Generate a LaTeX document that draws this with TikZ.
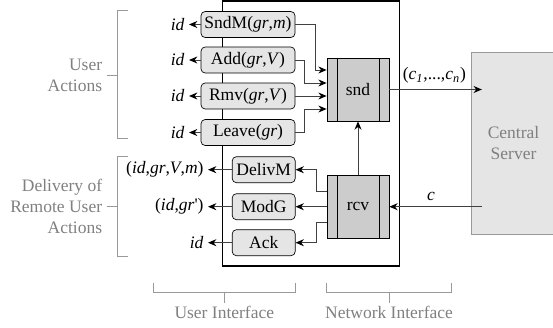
\documentclass[tikz,border=0pt]{standalone}
\usepackage{fontspec}
\setmainfont{Liberation Serif}
\usepackage{xcolor}
\usepackage{tikz}
\usetikzlibrary{arrows.meta}

\definecolor{boxgray}{gray}{0.9}
\definecolor{procgray}{gray}{0.8}
\definecolor{labgray}{gray}{0.5}
\definecolor{brkgray}{gray}{0.6}

\tikzset{
    actbox/.style={draw, fill=boxgray, rounded corners=2.5pt, minimum width=56.4pt, minimum height=15.6pt, inner sep=0.5pt},
    delbox/.style={actbox, minimum width=37.8pt},
    procbox/.style={draw, fill=procgray, minimum width=37.2pt, minimum height=37.8pt,
        path picture={
            \draw ([xshift=6pt]path picture bounding box.north west) -- ([xshift=6pt]path picture bounding box.south west);
            \draw ([xshift=-6pt]path picture bounding box.north east) -- ([xshift=-6pt]path picture bounding box.south east);}},
    srvbox/.style={draw=brkgray, fill=boxgray, text=labgray, align=center, minimum width=50.4pt, minimum height=109.2pt},
    cn/.style={draw=black!75, line width=0.6pt, -{Stealth[length=5pt,width=4.2pt,color=black]}},
    brk/.style={draw=brkgray, line width=0.6pt},
    lab/.style={text=labgray, align=right, inner sep=0pt},
    outlab/.style={anchor=east, inner sep=2.5pt},
}

\begin{document}
\begin{tikzpicture}[x=0.6pt, y=-0.6pt, font=\fontsize{10.5}{12.6}\selectfont]
    \useasboundingbox (0,0) rectangle (553,327);
    \clip (0,0) rectangle (553,327);

    \draw[line width=0.7pt] (222.3,1) rectangle (399.3,266);

    \node[actbox] (sndm) at (248,24.5) {SndM(\textit{gr},\textit{m})};
    \node[actbox] (add) at (248,60) {Add(\textit{gr},\textit{V})};
    \node[actbox] (rmv) at (248,96) {Rmv(\textit{gr},\textit{V})};
    \node[actbox] (leave) at (248,132.5) {Leave(\textit{gr})};
    \node[delbox] (delivm) at (263.7,169.7) {DelivM};
    \node[delbox] (modg) at (263.7,206.7) {ModG};
    \node[delbox] (ack) at (263.7,242.7) {Ack};
    \node[procbox] (snd) at (358,89.5) {snd};
    \node[procbox] (rcv) at (358,206.7) {rcv};
    \node[srvbox] (srv) at (513.5,143.3) {Central\\Server};

    \node[outlab] (idsndm) at (189,24.5) {\textit{id}};
    \node[outlab] (idadd) at (189,60) {\textit{id}};
    \node[outlab] (idrmv) at (189,96) {\textit{id}};
    \node[outlab] (idleave) at (189,132.5) {\textit{id}};
    \node[outlab] (odeliv) at (208,169.7) {(\textit{id},\textit{gr},\textit{V},\textit{m})};
    \node[outlab] (omodg) at (208,206.7) {(\textit{id},\textit{gr}\textquotesingle)};
    \node[outlab] (oack) at (208,242.7) {\textit{id}};

    \draw[cn] (sndm) -- (idsndm);
    \draw[cn] (add) -- (idadd);
    \draw[cn] (rmv) -- (idrmv);
    \draw[cn] (leave) -- (idleave);
    \draw[cn] (delivm) -- (odeliv);
    \draw[cn] (modg) -- (omodg);
    \draw[cn] (ack) -- (oack);

    \draw[cn] (sndm.east) -| ([xshift=-6.6pt,yshift=11.7pt]snd.west) -- ([yshift=11.7pt]snd.west);
    \draw[cn] (add.east) -| ([xshift=-13.2pt,yshift=3.9pt]snd.west) -- ([yshift=3.9pt]snd.west);
    \draw[cn] (rmv.east) -- (rmv.east -| snd.west);
    \draw[cn] (leave.east) -| ([xshift=-13.2pt,yshift=-11.7pt]snd.west) -- ([yshift=-11.7pt]snd.west);

    \draw[cn] ([yshift=9.3pt]rcv.west) -- ++(-10,0) |- (delivm.east);
    \draw[cn] (rcv.west) -- (modg.east);
    \draw[cn] ([yshift=-9.3pt]rcv.west) -- ++(-10,0) |- (ack.east);
    \draw[cn] (rcv) -- (snd);

    \draw[cn] (snd.east) -- node[above, pos=0.55] {(\textit{c}\textsubscript{\textit{1}},...,\textit{c}\textsubscript{\textit{n}})} (snd.east -| srv.west) -- ++(10.7,0);
    \draw[cn] (rcv.east -| srv.west) ++(10.7,0) -- node[above, pos=0.55] {\textit{c}} (rcv.east);

    \draw[brk] (127.7,10.7) -- (117.3,10.7) -- (117.3,138.3) -- (127.7,138.3);
    \draw[brk] (117.3,75.3) -- (107.3,75.3) node[lab, left=2.8pt] (ualab) {User\\Actions};
    \draw[brk] (127.7,156.7) -- (117.3,156.7) -- (117.3,256) -- (127.7,256);
    \draw[brk] (117.3,206.7) -- (107.3,206.7) node[lab, left=2.8pt] (drlab) {Delivery of\\Remote User\\Actions};

    \draw[brk] (153.7,282.5) -- (153.7,292.3) -- (295,292.3) -- (295,282.5);
    \draw[brk] (224.3,292.3) -- (224.3,302.5) node[lab, below=2pt] (uilab) {User Interface};
    \draw[brk] (326,282.5) -- (326,292.3) -- (451.7,292.3) -- (451.7,282.5);
    \draw[brk] (389,292.3) -- (389,302.5) node[lab, below=2pt] (nilab) {Network Interface};
\end{tikzpicture}
\end{document}
